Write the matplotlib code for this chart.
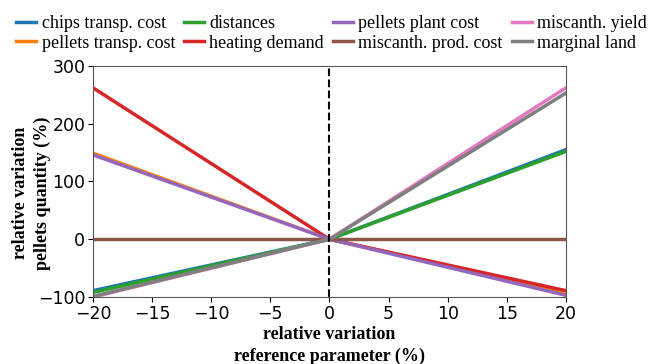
import matplotlib
matplotlib.use("Agg")
import matplotlib.pyplot as plt

x = [-20, 0, 20]
series_names = ["chips transp. cost", "pellets transp. cost", "distances",
                "heating demand", "pellets plant cost", "miscanth. prod. cost",
                "miscanth. yield", "marginal land"]
chips = [-89, 0, 155]
pellets_transp = [149, 0, -92]
distances = [-92, 0, 152]
heating = [262, 0, -89]
pellets_plant = [146, 0, -97]
miscanth_prod = [0, 0, 0]
miscanth_yield = [-100, 0, 262]
marginal = [-99, 0, 253]
all_series = [chips, pellets_transp, distances, heating, pellets_plant,
              miscanth_prod, miscanth_yield, marginal]

fig = plt.figure(figsize=(6.55, 3.64), dpi=100)
ax = fig.add_axes([0.142, 0.184, 0.722, 0.635])

for name, vals in zip(series_names, all_series):
    ax.plot(x, vals, label=name, linewidth=2.5)

ax.axvline(0, color="black", linestyle="--", linewidth=1.5)
ax.set_xlim(-20, 20)
ax.set_ylim(-100, 300)
ax.set_xticks([-20, -15, -10, -5, 0, 5, 10, 15, 20])
ax.set_yticks([-100, 0, 100, 200, 300])
ax.tick_params(labelsize=12.5, pad=2)
for s in ax.spines.values():
    s.set_color("#555555")

ax.set_xlabel("relative variation\nreference parameter (%)", fontsize=13,
              fontweight="bold", family="Liberation Serif", linespacing=1.35)
ax.set_ylabel("relative variation\npellets quantity (%)", fontsize=13,
              fontweight="bold", family="Liberation Serif", linespacing=1.35)
ax.xaxis.set_label_coords(0.5, -0.125)
ax.yaxis.set_label_coords(-0.088, 0.45)

ax.legend(loc="upper left", bbox_to_anchor=(-0.162, 1.22), ncol=4, frameon=False,
          prop={"family": "Liberation Serif", "size": 13}, handlelength=1.1,
          columnspacing=0.5, handletextpad=0.3, labelspacing=0.15, borderaxespad=0,
          borderpad=0)

fig.savefig("out.png", dpi=100)
